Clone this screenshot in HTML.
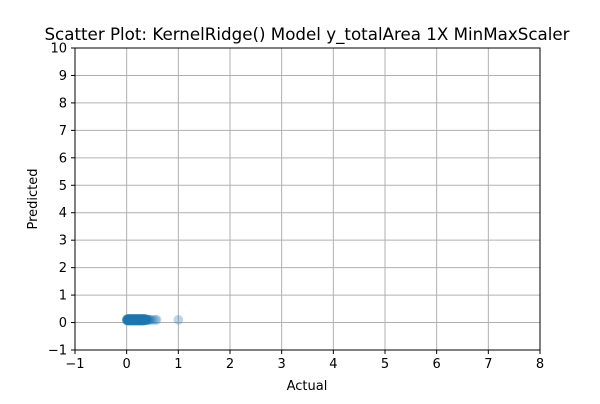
<!DOCTYPE html>
<html><head><meta charset="utf-8"><style>
body{margin:0;background:#fff;font-family:"DejaVu Sans","Liberation Sans",sans-serif}
svg text{font-family:"DejaVu Sans","Liberation Sans",sans-serif}
</style></head><body>
<svg width="600" height="400" xmlns="http://www.w3.org/2000/svg" id="chart">
<rect width="600" height="400" fill="#fff"/>
<text x="307" y="40" text-anchor="middle" font-size="16.7">Scatter Plot: KernelRidge() Model y_totalArea 1X MinMaxScaler</text>
<g id="grid"></g>
<g id="pts"></g>
<rect x="75" y="48" width="465" height="302" fill="none" stroke="#000" stroke-width="1"/>
<g id="ticks"></g>
<text x="307" y="390" text-anchor="middle" font-size="13">Actual</text>
<text x="37" y="199" text-anchor="middle" font-size="13" transform="rotate(-90 37 199)">Predicted</text>
</svg>
<script>
const xTicks=[-1,0,1,2,3,4,5,6,7,8];
const yTicks=[-1,0,1,2,3,4,5,6,7,8,9,10];
const actual=[0,0.01,0.02,0.03,0.04,0.05,0.06,0.07,0.08,0.09,0.1,0.11,0.12,0.13,0.14,0.15,0.16,0.17,0.18,0.19,0.2,0.21,0.22,0.23,0.24,0.25,0.26,0.27,0.28,0.29,0.3,0.31,0.32,0.33,0.34,0.35,0.36,0.37,0.38,0.39,0.4,0.42,0.44,0.46,0.5,0.55,0.58,1.0,
0.01,0.02,0.03,0.04,0.05,0.06,0.07,0.08,0.09,0.1,0.11,0.12,0.13,0.14,0.15,0.16,0.17,0.18,0.19,0.2,0.21,0.22,0.23,0.24,0.25,0.26,0.27,0.28,0.29,0.3,0.31,0.32,0.33,0.34,0.35,0.36,0.38,0.4,
0.01,0.02,0.03,0.04,0.05,0.06,0.07,0.08,0.09,0.1,0.11,0.12,0.13,0.14,0.15,0.16,0.17,0.18,0.19,0.2,0.21,0.22,0.23,0.24,0.25,0.26,0.27,0.28,0.29,0.3,0.31,0.32,0.33,0.34,0.36,0.38,
0.0,0.02,0.04,0.06,0.08,0.1,0.12,0.14,0.16,0.18,0.2,0.22,0.24,0.26,0.28,0.3,0.32,0.34];
const predicted=[0.08,0.09,0.1,0.1,0.1,0.1,0.11,0.1,0.1,0.11,0.1,0.1,0.11,0.1,0.1,0.11,0.1,0.1,0.1,0.11,0.1,0.1,0.1,0.1,0.11,0.1,0.1,0.1,0.11,0.1,0.1,0.1,0.11,0.1,0.1,0.11,0.1,0.1,0.1,0.1,0.1,0.1,0.1,0.1,0.1,0.1,0.1,0.1,
0.13,0.13,0.13,0.13,0.13,0.13,0.13,0.13,0.13,0.13,0.13,0.13,0.13,0.13,0.13,0.13,0.13,0.13,0.13,0.13,0.13,0.13,0.13,0.13,0.13,0.13,0.13,0.13,0.13,0.13,0.13,0.13,0.13,0.13,0.13,0.13,0.12,0.12,
0.07,0.07,0.07,0.07,0.07,0.07,0.07,0.07,0.07,0.07,0.07,0.07,0.07,0.07,0.07,0.07,0.07,0.07,0.07,0.07,0.07,0.07,0.07,0.07,0.07,0.07,0.07,0.07,0.07,0.07,0.07,0.07,0.07,0.07,0.08,0.08,
0.11,0.11,0.11,0.11,0.11,0.11,0.11,0.11,0.11,0.11,0.11,0.11,0.11,0.11,0.11,0.11,0.11,0.11];
const X=v=>75+(v+1)*465/9, Y=v=>350-(v+1)*302/11;
const ns="http://www.w3.org/2000/svg";
const g=document.getElementById('grid'),t=document.getElementById('ticks'),p=document.getElementById('pts');
function mk(tag,a,par){const e=document.createElementNS(ns,tag);for(const k in a)e.setAttribute(k,a[k]);par.appendChild(e);return e;}
xTicks.forEach(v=>{const x=X(v);
const l=mk('line',{x1:x,x2:x,y1:48,y2:350,stroke:'#b0b0b0','stroke-width':1},g);


mk('line',{x1:x,x2:x,y1:350,y2:354,stroke:'#000'},t);
const s=mk('text',{x:x,y:368,'text-anchor':'middle','font-size':13},t);s.textContent=v<0?'\u2212'+(-v):v;

});
yTicks.forEach(v=>{const y=Y(v);
const l=mk('line',{x1:75,x2:540,y1:y,y2:y,stroke:'#b0b0b0','stroke-width':1},g);


mk('line',{x1:71,x2:75,y1:y,y2:y,stroke:'#000'},t);
const s=mk('text',{x:67,y:y+4.5,'text-anchor':'end','font-size':13},t);s.textContent=v<0?'\u2212'+(-v):v;

});
actual.forEach((a,i)=>{const c=mk('circle',{cx:X(a),cy:Y(predicted[i]),r:4.8,fill:'#1f77b4','fill-opacity':0.3},p);

});
</script>
</body></html>
